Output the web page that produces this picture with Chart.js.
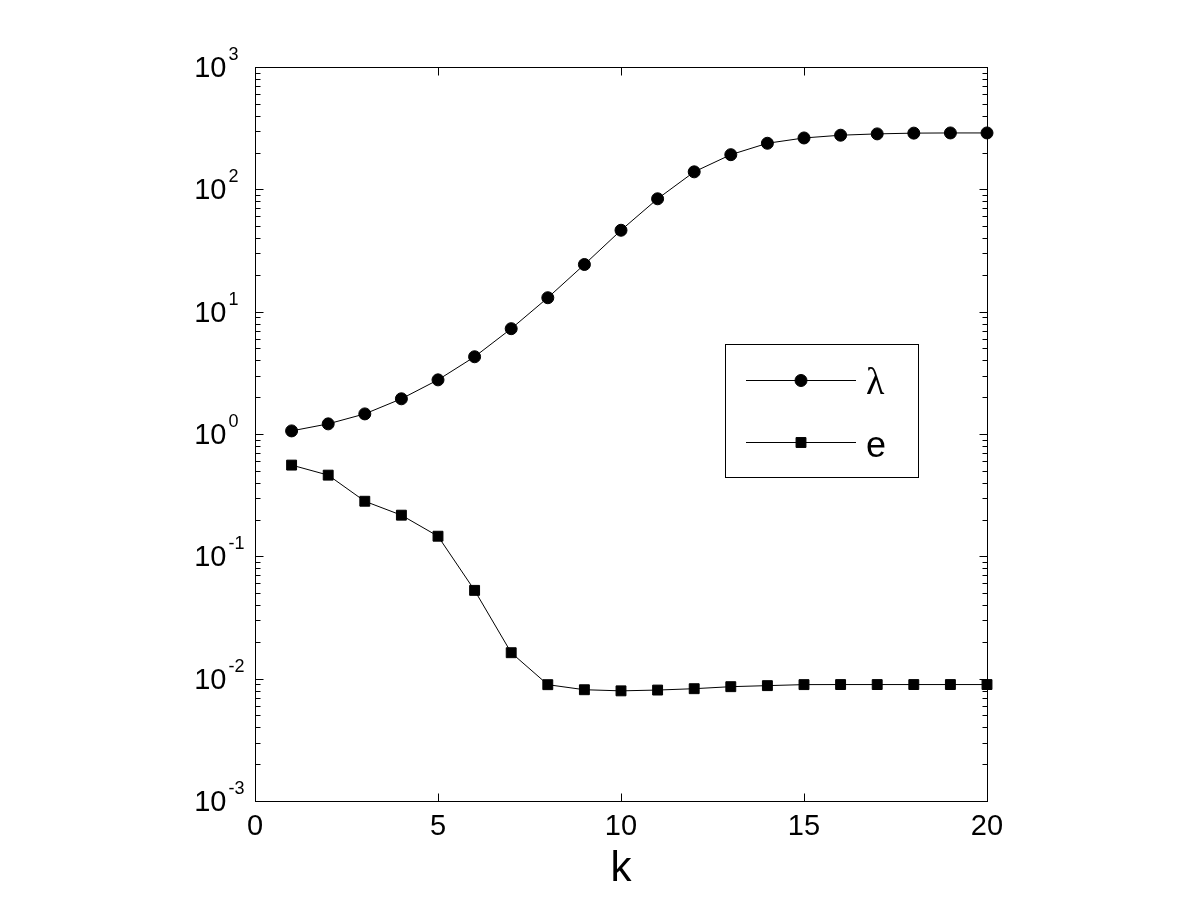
<!DOCTYPE html>
<html>
<head>
<meta charset="utf-8">
<script src="https://cdn.jsdelivr.net/npm/chart.js@4.4.1/dist/chart.umd.min.js"></script>
<style>
  body { margin: 0; background: #fff; }
  #wrap { width: 1200px; height: 900px; }
</style>
</head>
<body>
<div id="wrap"><canvas id="c" width="1200" height="900"></canvas></div>
<script>
// data
const kValues = [1, 2, 3, 4, 5, 6, 7, 8, 9, 10, 11, 12, 13, 14, 15, 16, 17, 18, 19, 20];
const lambdaValues = [1.06, 1.21, 1.46, 1.94, 2.77, 4.28, 7.26, 13.0, 24.3, 46.3,
  83.7, 139, 192, 238, 263, 277, 284, 288, 289, 289];
const errValues = [0.557, 0.461, 0.282, 0.217, 0.146, 0.0527, 0.0163, 0.00893, 0.00812, 0.00795,
  0.00807, 0.00828, 0.0086, 0.00877, 0.00894, 0.00895, 0.00895, 0.00895, 0.00895, 0.00895];
const xTicks = [0, 5, 10, 15, 20];
const yExponents = [-3, -2, -1, 0, 1, 2, 3];
const seriesNames = ['\u03bb', 'e'];

const FONT = '"Liberation Sans", Arial, sans-serif';

function pts(ys) {
  return kValues.map((k, i) => ({ x: k, y: ys[i] }));
}

// frame, inward ticks, superscript labels and the boxed legend
const axesPlugin = {
  id: 'matlabAxes',
  afterDatasetsDraw(chart) {
    const ctx = chart.ctx;
    const a = chart.chartArea;
    const xs = chart.scales.x, ys = chart.scales.y;
    const L = Math.round(a.left) + 0.5, R = Math.round(a.right) + 0.5;
    const T = Math.round(a.top) + 0.5, B = Math.round(a.bottom) + 0.5;
    ctx.save();
    ctx.strokeStyle = '#000';
    ctx.lineWidth = 1;
    ctx.strokeRect(L, T, R - L, B - T);

    ctx.beginPath();
    xTicks.forEach(v => {
      const px = Math.round(xs.getPixelForValue(v)) + 0.5;
      ctx.moveTo(px, B); ctx.lineTo(px, B - 8);
      ctx.moveTo(px, T); ctx.lineTo(px, T + 8);
    });
    yExponents.forEach((p, i) => {
      const py = Math.round(ys.getPixelForValue(Math.pow(10, p))) + 0.5;
      ctx.moveTo(L, py); ctx.lineTo(L + 8, py);
      ctx.moveTo(R, py); ctx.lineTo(R - 8, py);
      if (i < yExponents.length - 1) {
        for (let m = 2; m <= 9; m++) {
          const my = Math.round(ys.getPixelForValue(m * Math.pow(10, p))) + 0.5;
          ctx.moveTo(L, my); ctx.lineTo(L + 5, my);
          ctx.moveTo(R, my); ctx.lineTo(R - 5, my);
        }
      }
    });
    ctx.stroke();

    ctx.fillStyle = '#000';
    ctx.textBaseline = 'alphabetic';
    ctx.font = '29px ' + FONT;
    ctx.textAlign = 'center';
    xTicks.forEach(v => {
      ctx.fillText(String(v), xs.getPixelForValue(v), B + 33);
    });

    yExponents.forEach(p => {
      const py = ys.getPixelForValue(Math.pow(10, p));
      ctx.font = '29px ' + FONT;
      ctx.textAlign = 'right';
      ctx.fillText('10', L - 29, py + 10);
      ctx.font = '18px ' + FONT;
      ctx.textAlign = 'left';
      ctx.fillText(String(p), L - 27, py - 7);
    });

    ctx.font = '42px ' + FONT;
    ctx.textAlign = 'center';
    ctx.fillText('k', (a.left + a.right) / 2, B + 79);

    // legend
    const box = { x: 725.5, y: 344.5, w: 193, h: 133 };
    ctx.strokeRect(box.x, box.y, box.w, box.h);
    const rows = [380.5, 442.5];
    chart.data.datasets.forEach((ds, i) => {
      const ly = rows[i];
      ctx.beginPath();
      ctx.moveTo(746, ly); ctx.lineTo(856, ly);
      ctx.stroke();
      ctx.fillStyle = '#000';
      Chart.helpers.drawPoint(ctx, {
        pointStyle: ds.pointStyle, radius: ds.pointRadius,
        borderWidth: ds.pointBorderWidth, rotation: 0
      }, 801, ly);
      ctx.textAlign = 'left';
      if (i === 0) {
        ctx.font = '38px "Liberation Serif", "DejaVu Serif", serif';
        ctx.fillText(seriesNames[i], 866, ly + 13);
      } else {
        ctx.font = '36px ' + FONT;
        ctx.fillText(seriesNames[i], 866, ly + 14);
      }
    });
    ctx.restore();
  }
};

new Chart(document.getElementById('c').getContext('2d'), {
  type: 'line',
  data: {
    datasets: [
      {
        label: seriesNames[0],
        data: pts(lambdaValues),
        borderColor: '#000',
        backgroundColor: '#000',
        borderWidth: 1,
        pointStyle: 'circle',
        pointRadius: 6,
        pointBorderWidth: 1,
        pointBackgroundColor: '#000',
        pointBorderColor: '#000',
        tension: 0,
        clip: false
      },
      {
        label: seriesNames[1],
        data: pts(errValues),
        borderColor: '#000',
        backgroundColor: '#000',
        borderWidth: 1,
        pointStyle: 'rect',
        pointRadius: 7,
        pointBorderWidth: 1,
        pointBackgroundColor: '#000',
        pointBorderColor: '#000',
        tension: 0,
        clip: false
      }
    ]
  },
  options: {
    responsive: false,
    animation: false,
    events: [],
    layout: { padding: { left: 255, right: 213, top: 67, bottom: 99 } },
    plugins: { legend: { display: false }, tooltip: { enabled: false } },
    scales: {
      x: { type: 'linear', min: 0, max: 20, display: false },
      y: { type: 'logarithmic', min: 0.001, max: 1000, display: false }
    }
  },
  plugins: [axesPlugin]
});
</script>
</body>
</html>
